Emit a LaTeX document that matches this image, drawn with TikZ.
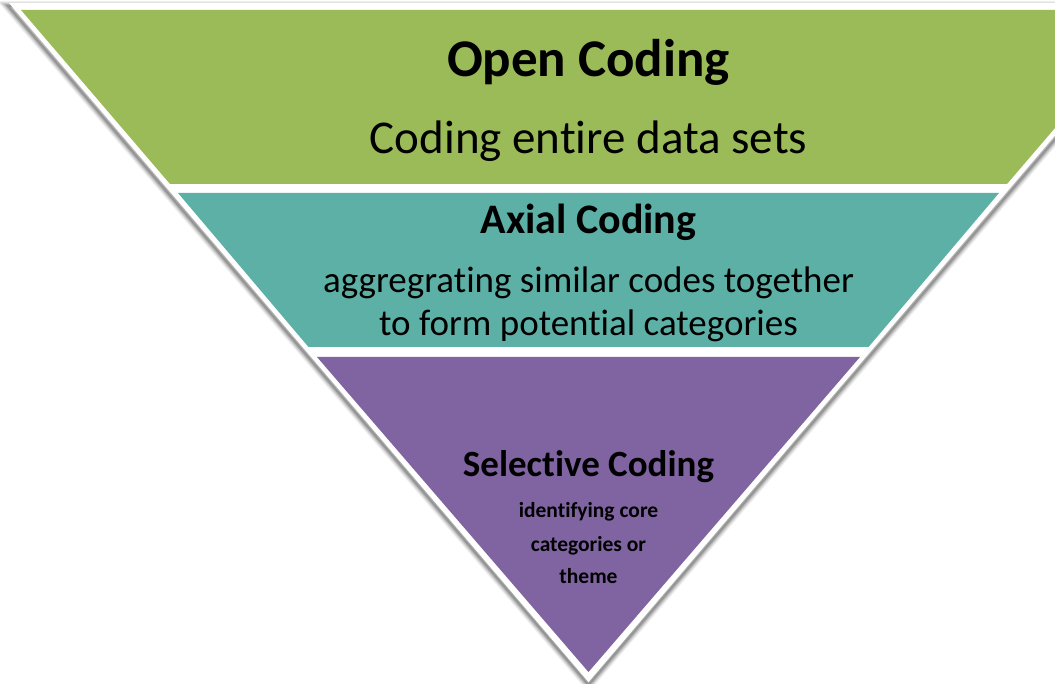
\documentclass[tikz,border=0pt]{standalone}
\usepackage{fontspec}
\setmainfont{Carlito}[Ligatures=NoCommon]
\definecolor{bandgreen}{HTML}{9BBB59}
\definecolor{bandteal}{HTML}{5DB0A6}
\definecolor{bandpurple}{HTML}{8064A2}
\tikzset{
  title/.style={font=\bfseries\fontsize{53}{58}\selectfont, anchor=base, inner sep=0pt},
  sub/.style={font=\fontsize{47}{52}\selectfont, anchor=base, inner sep=0pt},
  small/.style={font=\bfseries\fontsize{21.5}{24}\selectfont, anchor=base, inner sep=0pt}
}
\begin{document}
\begin{tikzpicture}[x=1pt,y=-1pt]
\useasboundingbox (0,0) rectangle (1055,684);
\clip (0,0) rectangle (1055,684);
\fill[white] (0,0) rectangle (1055,684);
% shadow
\foreach \w/\o in {10/0.05,8/0.07,6/0.09,4/0.12,2/0.16}{
  \draw[line width=\w pt, black, opacity=\o, line join=miter]
    ([yshift=-3pt]8,3) -- ([yshift=-3pt]1169,3) -- ([yshift=-3pt]588.5,682) -- cycle;
}
% white outer triangle
\fill[white] (9,3) -- (1168,3) -- (588.5,682) -- cycle;
% bands
\fill[bandgreen] (21,10) -- (1156,10) -- (1007,184) -- (170,184) -- cycle;
\fill[bandteal] (178,193) -- (999,193) -- (868.5,347) -- (308.5,347) -- cycle;
\fill[bandpurple] (317,357) -- (860,357) -- (588.5,672) -- cycle;
% texts
\node[title] (open) at (588.5,77) {Open Coding};
\node[sub] (opensub) at (588.5,154) {Coding entire data sets};
\node[title, font=\bfseries\fontsize{42}{46}\selectfont] (axial) at (588.5,234) {Axial Coding};
\node[sub, font=\fontsize{37}{41}\selectfont] (axial1) at (588.5,293) {aggregrating similar codes together};
\node[sub, font=\fontsize{37}{41}\selectfont] (axial2) at (588.5,336) {to form potential categories};
\node[title, font=\bfseries\fontsize{37}{41}\selectfont] (sel) at (588.5,476) {Selective Coding};
\node[small] (sel1) at (588.5,517) {identifying core};
\node[small] (sel2) at (588.5,551) {categories or};
\node[small] (sel3) at (588.5,583) {theme};
\end{tikzpicture}
\end{document}
